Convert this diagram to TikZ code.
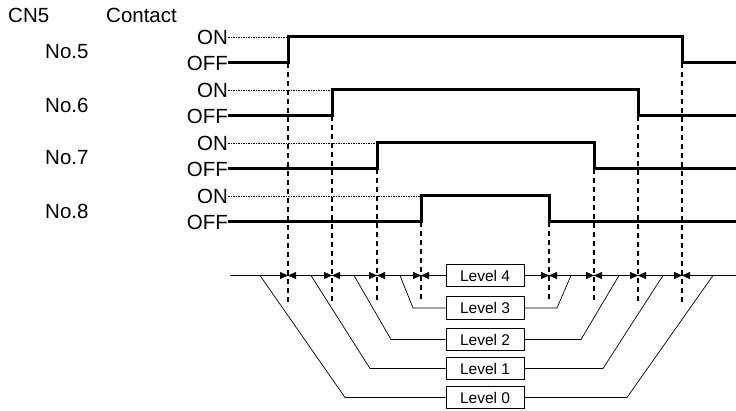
\documentclass[tikz,border=0pt]{standalone}
\usepackage{fontspec}
\setmainfont{Liberation Sans}
\usetikzlibrary{arrows.meta}
\begin{document}
\begin{tikzpicture}[x=1pt,y=-1pt,>={Triangle[length=8pt,width=7pt]},
  sig/.style={line width=3pt},
  mark line/.style={line width=1.4pt,dash pattern=on 5pt off 4pt},
  lvl/.style={draw,line width=0.9pt,minimum width=78pt,minimum height=22.5pt,inner sep=0pt,font=\fontsize{15.5}{18}\selectfont},
  txt/.style={font=\fontsize{20.5}{24}\selectfont,inner sep=0pt}]
\useasboundingbox (0,0) rectangle (736,411);
\node[txt,anchor=west] (cn) at (8,15) {CN5};
\node[txt,anchor=west] (contact) at (106,15) {Contact};
% contacts: number / ON level / rising edge / falling edge
\foreach \n/\y/\r/\f in {5/37/288/682,6/90/332/638,7/143/377/594,8/196/421/549}{
  \node[txt,anchor=west] (no\n) at (45,\y+15) {No.\n};
  \node[txt,anchor=east] (on\n) at (228,\y) {ON};
  \node[txt,anchor=east] (off\n) at (228,\y+26) {OFF};
  \draw[line width=0.5pt,dash pattern=on 1.5pt off 1pt] (on\n.east) -- (\r,\y);
  \draw[sig] (off\n.east) -- (\r,\y+26) -- (\r,\y) -- (\f,\y) -- (\f,\y+26) -- (736,\y+26);
  \draw[mark line] (\r,\y+26) -- (\r,302);
  \draw[mark line] (\f,\y+26) -- (\f,302);
}
% levels
\node[lvl] (L4) at (485,275.5) {Level 4};
\node[lvl] (L3) at (485,308) {Level 3};
\node[lvl] (L2) at (485,339.5) {Level 2};
\node[lvl] (L1) at (485,368.5) {Level 1};
\node[lvl] (L0) at (485,397.5) {Level 0};
\draw[line width=0.9pt] (230,275.5) -- (L4.west);
\draw[line width=0.9pt] (L4.east) -- (736,275.5);
\foreach \k/\y/\a/\b/\c/\d in {3/308/413/400/557/571,2/339.5/391/354/581/619,1/368.5/370/311/603/663,0/397.5/345/260/627/713}{
  \draw[line width=0.7pt] (L\k.west) -- (\a,\y) -- (\b,275.5);
  \draw[line width=0.7pt] (L\k.east) -- (\c,\y) -- (\d,275.5);
}
\foreach \x in {288,332,377,421,549,594,638,682}{
  \draw[->] (\x-8,275.5) -- (\x,275.5);
  \draw[->] (\x+8,275.5) -- (\x,275.5);
}
\end{tikzpicture}
\end{document}
